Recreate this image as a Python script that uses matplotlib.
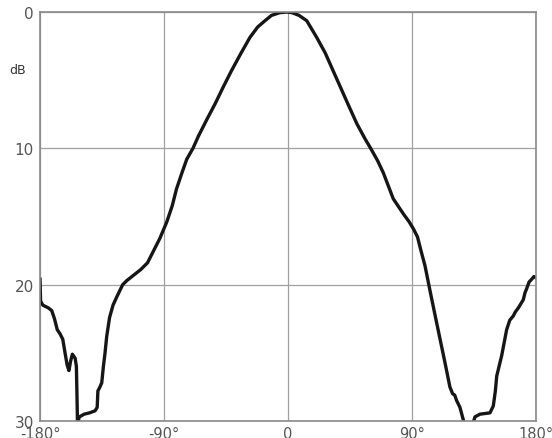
import numpy as np
import matplotlib.pyplot as plt

# relative response (dB below peak) against angle (degrees)
angle = [-180, -179.6, -178, -174, -171.5, -169.5, -167.5, -165.5, -163.5, -161.5,
         -160.3, -159, -157.8, -156.5, -154.5, -153.6, -153.2, -152.8, -151.5, -148,
         -144, -140, -138.5, -138.0, -136.5, -135.2, -134.0, -132.8, -131.6, -129.5,
         -127, -124.3, -120, -117, -112, -107, -102, -98, -93, -88,
         -84, -81, -77, -73.5, -69, -65, -59, -53, -47, -41,
         -34, -27.6, -22, -16.7, -12, -6, -1, 3, 8, 13.6,
         20.8, 27, 32.7, 38, 43.5, 50, 55.9, 60, 65, 69.2,
         76.4, 83.7, 88, 91, 94, 96.5, 99.4, 101.8, 104, 107.9,
         113.9, 117.5, 119.5, 121, 122.4, 124.8, 127.2, 128.5, 133, 135.7,
         139.3, 146.6, 149.0, 150.5, 151.5, 155.1, 158.7, 161, 163.5, 165,
         167.2, 170.8, 172, 173.2, 175, 176.9, 178.5, 180]
level = [19.6, 21.2, 21.5, 21.7, 21.9, 22.5, 23.3, 23.6, 24.0, 25.2,
         25.9, 26.3, 25.6, 25.1, 25.4, 26.0, 28.0, 30.2, 29.7, 29.5,
         29.4, 29.25, 29.0, 27.8, 27.5, 27.2, 26.0, 25.0, 23.8, 22.4,
         21.5, 20.9, 20.0, 19.7, 19.3, 18.9, 18.4, 17.6, 16.6, 15.4,
         14.2, 13.0, 11.8, 10.8, 10.0, 9.1, 7.9, 6.75, 5.5, 4.3,
         3.0, 1.86, 1.1, 0.64, 0.25, 0.05, 0.0, 0.05, 0.25, 0.64,
         1.86, 3.0, 4.3, 5.5, 6.75, 8.2, 9.3, 10.0, 10.9, 11.8,
         13.7, 14.8, 15.4, 15.9, 16.5, 17.5, 18.6, 19.8, 20.9, 22.8,
         25.7, 27.5, 28.0, 28.1, 28.5, 29.0, 29.9, 30.6, 30.6, 29.7,
         29.5, 29.4, 28.9, 27.8, 26.7, 25.2, 23.3, 22.6, 22.3, 22.0,
         21.7, 21.1, 20.6, 20.3, 19.8, 19.6, 19.4, 19.5]

xticks = [-180, -90, 0, 90, 180]
xlabels = ['-180°', '-90°', '0', '90°', '180°']
yticks = [0, 10, 20, 30]

fig = plt.figure(figsize=(5.52, 4.39), dpi=100)
ax = fig.add_axes([0.0725, 0.0387, 0.8985, 0.9317])

ax.plot(angle, level, color='#161616', lw=2.4, solid_joinstyle='round')

ax.set_xlim(-180, 180)
ax.set_ylim(30, 0)
ax.set_xticks(xticks)
ax.set_xticklabels(xlabels)
ax.set_yticks(yticks)
ax.tick_params(length=0, labelsize=11, labelcolor='#555555')
ax.tick_params(axis='x', pad=3.5, labelsize=10.5)
ax.tick_params(axis='y', pad=4.5)

ax.grid(True, color='#a0a0a0', lw=0.9)
for s in ax.spines.values():
    s.set_color('#8a8a8a')
    s.set_linewidth(1.2)

fig.text(18 / 552, 1 - 70 / 439, 'dB', ha='center', va='center',
         fontsize=9, color='#333333')

fig.savefig('out.png', dpi=100)
